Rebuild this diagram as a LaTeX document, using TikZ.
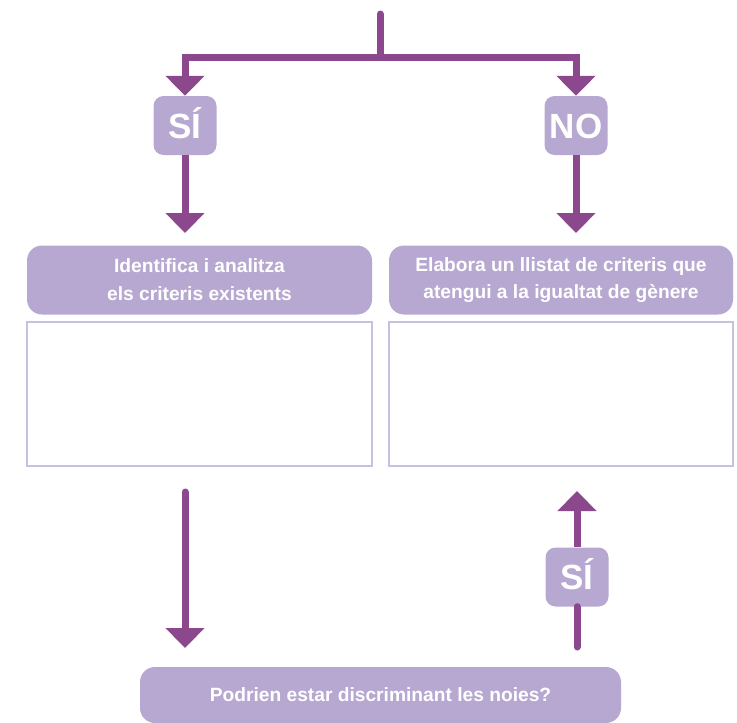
\documentclass[tikz,border=0pt]{standalone}
\usepackage{fontspec}
\setmainfont{Liberation Sans}
\usetikzlibrary{arrows.meta}
\definecolor{flowpurple}{RGB}{139,72,140}
\definecolor{lavender}{RGB}{183,168,209}
\definecolor{lavenderline}{RGB}{201,191,226}

\begin{document}
\begin{tikzpicture}[x=1pt, y=-1pt,
    badge/.style={rectangle, fill=lavender, rounded corners=10pt, minimum width=63pt, minimum height=59pt, inner sep=0pt, text=white, font=\fontsize{35}{35}\selectfont\bfseries, text height=25pt, text depth=0pt},
    header/.style={rectangle, fill=lavender, rounded corners=15pt, minimum width=345pt, minimum height=69pt, inner sep=0pt, align=center, text=white, font=\fontsize{19.2}{27.8}\selectfont\bfseries},
    answerbox/.style={rectangle, draw=lavenderline, line width=1.2pt, minimum width=345pt, minimum height=144pt},
    flow/.style={draw=flowpurple, line width=7pt, -{Triangle[width=38pt, length=20pt]}}
]
\useasboundingbox (0,0) rectangle (737,723);

% decisions
\node[badge] (si1) at (185,125.5) {SÍ};
\node[badge] (no1) at (576,125.5) {NO};
\node[badge] (si2) at (577,577) {SÍ};

% branches
\node[header] (head1) at (199.5,280) {Identifica i analitza\\els criteris existents};
\node[header, minimum width=344pt] (head2) at (561,280) {Elabora un llistat de criteris que\\atengui a la igualtat de gènere};
\node[answerbox] (body1) at (199.5,394) {};
\node[answerbox, minimum width=344pt] (body2) at (561,394) {};

\node[header, minimum width=481pt, minimum height=56pt] (ask) at (380.5,695) {Podrien estar discriminant les noies?};

\coordinate (start) at (380,14);
\coordinate (split) at (380,57);
\coordinate (t1) at (185,233);
\coordinate (t2) at (576,233);
\coordinate (d1) at (185,492);
\coordinate (d2) at (185,648);
\coordinate (u1) at (577,647);
\coordinate (u2) at (577,491);

\draw[flow, line cap=round] (start) -- (split) -| (si1.north);
\draw[flow] (split) -| (no1.north);
\draw[flow] (si1.south) -- (t1);
\draw[flow] (no1.south) -- (t2);
\draw[flow, line cap=round] (d1) -- (d2);
\draw[draw=flowpurple, line width=7pt, line cap=round] (u1) -- (si2.south);
\draw[flow] (si2.north) -- (u2);

\end{tikzpicture}
\end{document}
